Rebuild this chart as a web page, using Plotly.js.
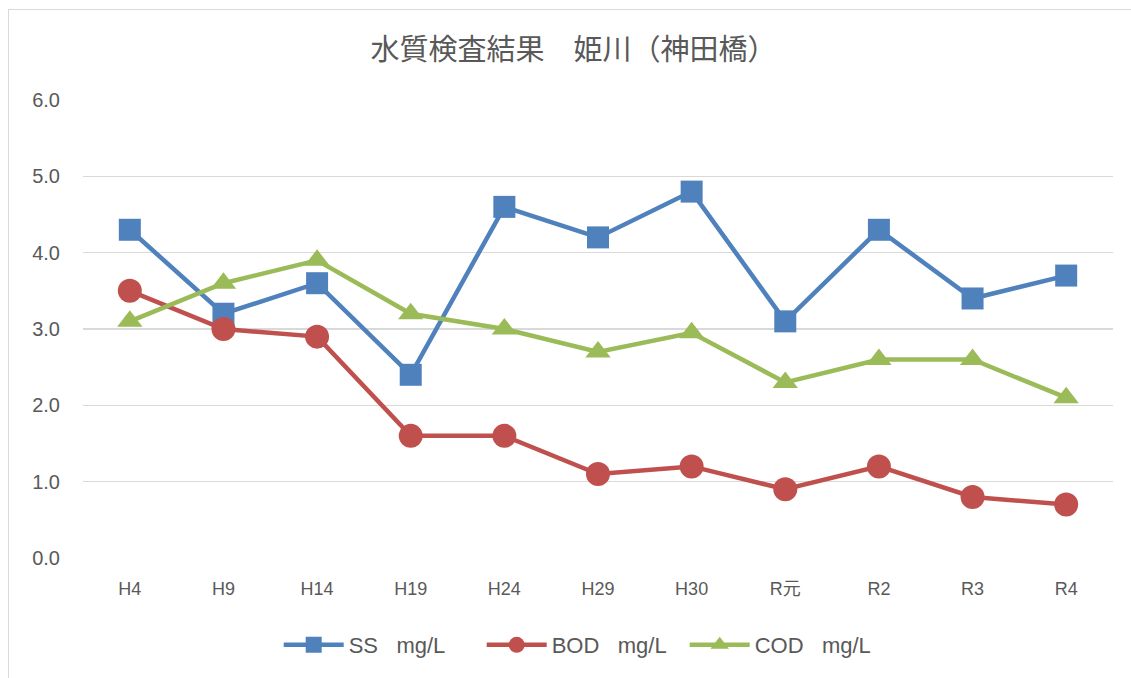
<!DOCTYPE html>
<html><head><meta charset="utf-8">
<script src="https://cdn.plot.ly/plotly-3.0.1.min.js"></script>
<style>
html,body{margin:0;padding:0;background:#fff;}
#wrap{position:relative;width:1131px;height:678px;}
#chart{width:1131px;height:678px;}
#frame{position:absolute;left:8px;top:9px;width:1200px;height:700px;border-left:1px solid #d9d9d9;border-top:1px solid #d9d9d9;pointer-events:none;}
</style></head>
<body>
<div id="wrap"><div id="chart"></div><div id="frame"></div></div>
<script>
const categories = ["H4","H9","H14","H19","H24","H29","H30","R元","R2","R3","R4"];
const ssValues  = [4.3,3.2,3.6,2.4,4.6,4.2,4.8,3.1,4.3,3.4,3.7];
const bodValues = [3.5,3.0,2.9,1.6,1.6,1.1,1.2,0.9,1.2,0.8,0.7];
const codValues = [3.1,3.6,3.9,3.2,3.0,2.7,2.95,2.3,2.6,2.6,2.1];
const seriesNames = ["SS\u00a0\u00a0\u00a0mg/L", "BOD\u00a0\u00a0\u00a0mg/L", "COD\u00a0\u00a0\u00a0mg/L"];
const yTicks = [0,1,2,3,4,5,6];
const yTickLabels = ["0.0","1.0","2.0","3.0","4.0","5.0","6.0"];

const font = '"Liberation Sans", "Noto Sans CJK JP", sans-serif';
const traces = [
  {x: categories, y: ssValues, name: seriesNames[0], mode: "lines+markers",
   line: {color: "#4F81BD", width: 4.5}, marker: {symbol: "square", size: 22, color: "#4F81BD"}},
  {x: categories, y: bodValues, name: seriesNames[1], mode: "lines+markers",
   line: {color: "#C0504D", width: 4.5}, marker: {symbol: "circle", size: 24, color: "#C0504D"}},
  {x: categories, y: codValues, name: seriesNames[2], mode: "lines+markers",
   line: {color: "#9BBB59", width: 4.5}, marker: {symbol: "triangle-up", size: 22, color: "#9BBB59"}}
];
const layout = {
  width: 1131, height: 678,
  margin: {l: 83, r: 18, t: 100, b: 120},
  paper_bgcolor: "#fff", plot_bgcolor: "#fff",
  font: {family: font, color: "#595959", size: 17},
  title: {text: "水質検査結果　姫川（神田橋）", x: 0.507, xanchor: "center", y: 0.926, yanchor: "middle",
          font: {family: '"Noto Sans CJK JP", sans-serif', size: 29, color: "#595959"}},
  xaxis: {type: "category", range: [-0.5, 10.5], showgrid: false, zeroline: false, showline: false,
          ticks: "", ticklabelstandoff: 18, tickfont: {size: 18, color: "#595959", family: font}},
  yaxis: {range: [0, 6], tickvals: yTicks, ticktext: yTickLabels, showgrid: true, gridcolor: "#d9d9d9",
          gridwidth: 1.5, zeroline: false, showline: false, ticks: "", ticklabelstandoff: 22,
          tickfont: {size: 20, color: "#595959", family: font}},
  showlegend: true,
  legend: {orientation: "h", x: 0.19, xanchor: "left", y: -0.19, yanchor: "middle",
           itemwidth: 60, entrywidth: 128, entrywidthmode: "pixels",
           font: {size: 22, color: "#595959", family: font}},
  hovermode: false
};
Plotly.newPlot("chart", traces, layout, {displayModeBar: false, staticPlot: true});
</script>
</body></html>
